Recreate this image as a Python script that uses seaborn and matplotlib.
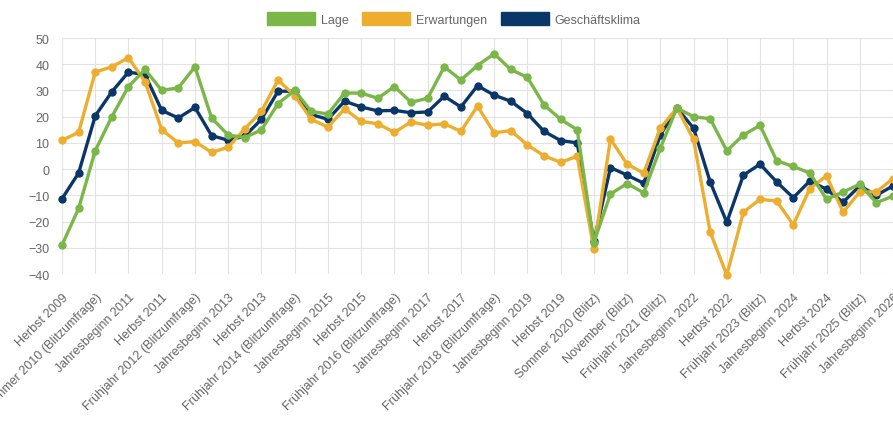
import matplotlib

matplotlib.use("Agg")

import matplotlib.pyplot as plt
import pandas as pd
import seaborn as sns
from matplotlib.patches import Patch

categories = [
    "Herbst 2009", "Jahresbeginn 2010", "Sommer 2010 (Blitzumfrage)", "Herbst 2010",
    "Jahresbeginn 2011", "Frühjahr 2011", "Herbst 2011", "Jahresbeginn 2012",
    "Frühjahr 2012 (Blitzumfrage)", "Herbst 2012", "Jahresbeginn 2013", "Frühjahr 2013",
    "Herbst 2013", "Jahresbeginn 2014", "Frühjahr 2014 (Blitzumfrage)", "Herbst 2014",
    "Jahresbeginn 2015", "Frühjahr 2015", "Herbst 2015", "Jahresbeginn 2016",
    "Frühjahr 2016 (Blitzumfrage)", "Herbst 2016", "Jahresbeginn 2017", "Frühjahr 2017",
    "Herbst 2017", "Jahresbeginn 2018", "Frühjahr 2018 (Blitzumfrage)", "Herbst 2018",
    "Jahresbeginn 2019", "Frühjahr 2019", "Herbst 2019", "Jahresbeginn 2020",
    "Sommer 2020 (Blitz)", "Herbst 2020", "November (Blitz)", "Jahresbeginn 2021",
    "Frühjahr 2021 (Blitz)", "Herbst 2021", "Jahresbeginn 2022", "Frühjahr 2022",
    "Herbst 2022", "Jahresbeginn 2023", "Frühjahr 2023 (Blitz)", "Herbst 2023",
    "Jahresbeginn 2024", "Frühjahr 2024", "Herbst 2024", "Jahresbeginn 2025",
    "Frühjahr 2025 (Blitz)", "Herbst 2025", "Jahresbeginn 2026",
]

lage = [
    -29, -15, 7, 20, 31.5, 38, 30, 31, 39, 19.5,
    13, 12, 15, 25, 30, 22, 21, 29, 29, 27,
    31.5, 25.5, 27, 39, 34, 39.5, 44, 38, 35, 24.5,
    19, 15, -28, -9.5, -5.5, -9, 8, 23.3, 20, 19.2,
    7, 13, 16.7, 3.2, 1, -1.5, -11.5, -8.7, -5.8, -12.8,
    -10.3,
]
erwartungen = [
    11, 14, 37, 39, 42.5, 33.3, 15, 10, 10.5, 6.4,
    8.3, 15.4, 22, 34, 28, 19, 16, 23, 18.2, 17.3,
    14, 18, 16.7, 17.3, 14.4, 24, 13.8, 14.7, 9.2, 5.1,
    2.6, 4.9, -30.5, 11.5, 1.9, -1.5, 15.6, 23.3, 11.3, -24,
    -40.4, -16.4, -11.5, -12.2, -21.2, -7.4, -2.6, -16.4, -8.7, -8.7,
    -3.6,
]
klima = [
    -11.3, -1.5, 20.3, 29.5, 37, 36, 22.4, 19.5, 23.5, 12.8,
    11, 12.6, 19, 29.7, 29.7, 20.8, 19, 25.9, 23.7, 22.2,
    22.4, 21.5, 21.8, 27.8, 23.7, 31.8, 28.2, 25.9, 21.2, 14.4,
    10.9, 10, -27.6, 0.6, -2.3, -5.4, 13, 23.3, 15.6, -4.9,
    -20.3, -2.3, 1.9, -4.9, -10.9, -4.5, -7.7, -12.6, -6.4, -10,
    -6.4,
]

series_names = ["Lage", "Erwartungen", "Geschäftsklima"]
colors = {"Lage": "#7AB648", "Erwartungen": "#EDAE30", "Geschäftsklima": "#0B3668"}

frame = pd.DataFrame(
    {
        "idx": list(range(len(categories))) * 3,
        "value": lage + erwartungen + klima,
        "series": ["Lage"] * len(lage)
        + ["Erwartungen"] * len(erwartungen)
        + ["Geschäftsklima"] * len(klima),
    }
)

sns.set_style("white")
plt.rcParams["font.family"] = ["Liberation Sans", "DejaVu Sans"]

fig = plt.figure(figsize=(8.93, 4.27), dpi=100)
ax = fig.add_axes([62 / 893, 1 - 275 / 427, 1 - 62 / 893, (275 - 39) / 427])

# draw bottom-up so that "Lage" sits on top like in the original
for z, name in enumerate(["Geschäftsklima", "Erwartungen", "Lage"]):
    sns.lineplot(
        data=frame[frame["series"] == name],
        x="idx",
        y="value",
        color=colors[name],
        linewidth=2.4,
        marker="o",
        markersize=6,
        markeredgewidth=0,
        ax=ax,
        zorder=3 + z,
        legend=False,
        clip_on=False,
    )

ax.set_xlim(0, len(categories) - 1)
ax.set_ylim(-40, 50)
ax.set_yticks(range(-40, 51, 10))
tick_pos = list(range(0, len(categories), 2))
ax.set_xticks(tick_pos)
ax.set_xticklabels(
    [categories[i] for i in tick_pos],
    rotation=45,
    ha="right",
    va="top",
    rotation_mode="anchor",
)
ax.set_xlabel("")
ax.set_ylabel("")
ax.grid(True, color="#E3E3E3", linewidth=0.8)
ax.set_axisbelow(True)
for spine in ax.spines.values():
    spine.set_visible(False)
ax.tick_params(
    axis="both",
    length=6,
    width=0.8,
    color="#E3E3E3",
    labelcolor="#666666",
    labelsize=9,
)
ax.tick_params(axis="y", pad=3)
ax.tick_params(axis="x", pad=6)

handles = [
    Patch(facecolor=colors[n], edgecolor=colors[n], label=n) for n in series_names
]
leg = fig.legend(
    handles=handles,
    loc="center",
    bbox_to_anchor=(454 / 893, 1 - 20 / 427),
    ncol=3,
    frameon=False,
    fontsize=9,
    handlelength=3.8,
    handleheight=1.2,
    handletextpad=0.5,
    columnspacing=1.1,
)
for text in leg.get_texts():
    text.set_color("#666666")

fig.savefig("out.png", dpi=100)
plt.close(fig)
